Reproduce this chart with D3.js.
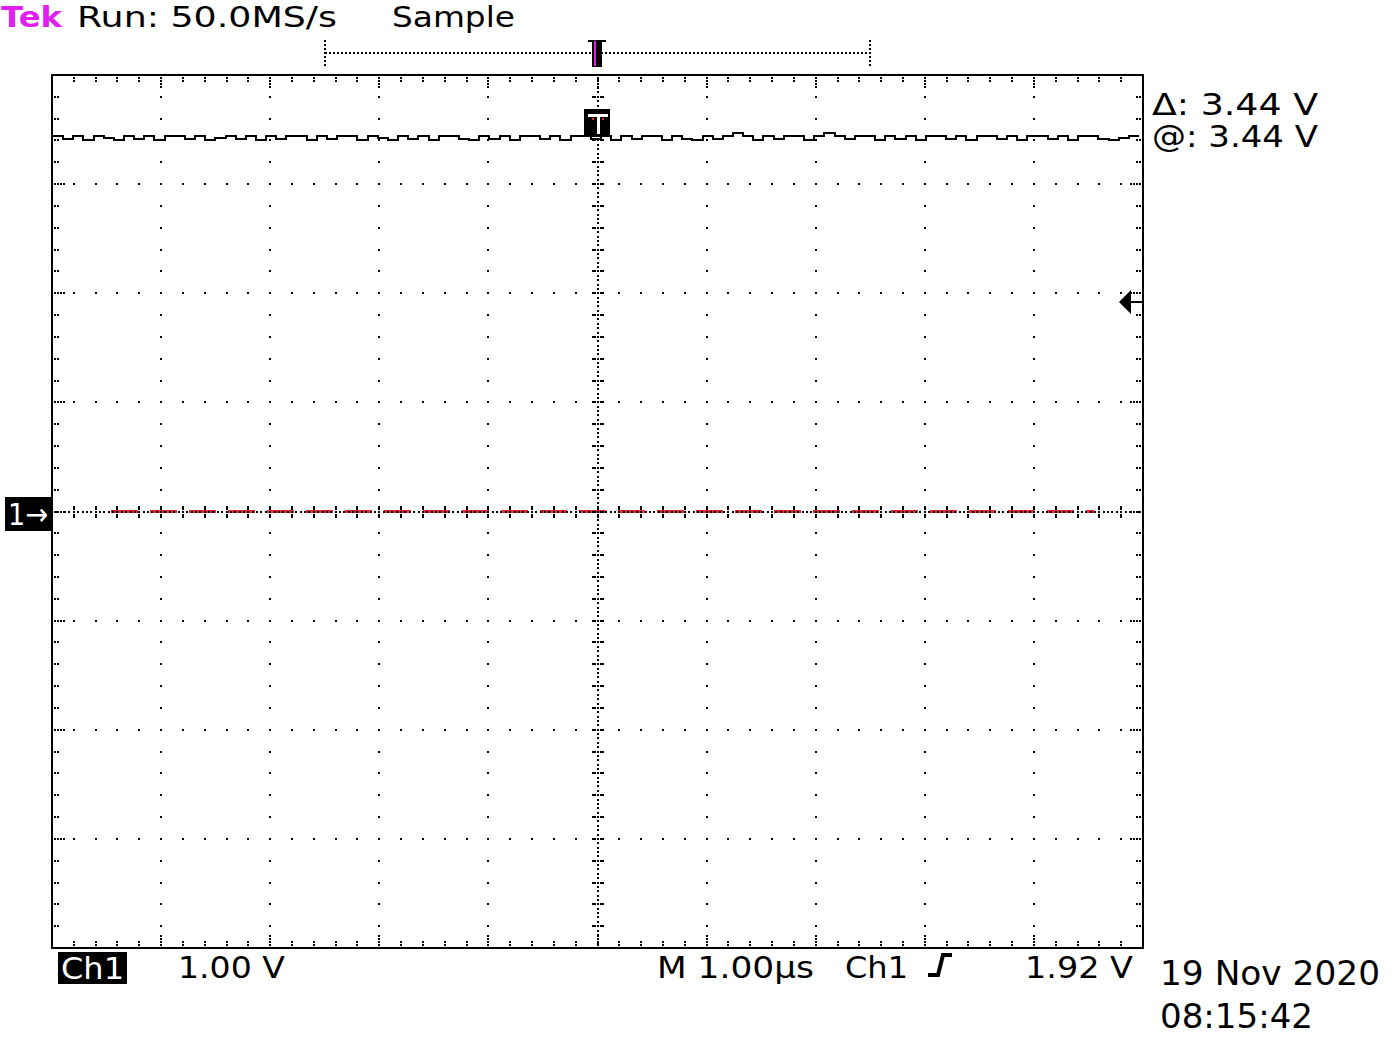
<!DOCTYPE html>
<html><head><meta charset="utf-8">
<script src="https://cdn.jsdelivr.net/npm/d3@7"></script>
<style>html,body{margin:0;padding:0;background:#fff;}svg{display:block;}</style>
</head><body>
<script>
// ---- data ----
const timeDomain = [-5, 5];          // µs, 10 divisions at 1.00 µs/div
const voltDomain = [-4, 4];          // V, 8 divisions at 1.00 V/div
const ch1Trace = [3.44,3.41,3.44,3.40,3.44,3.42,3.40,3.44,3.41,3.44,3.40,3.44,3.44,3.41,3.44,3.40,3.42,3.44,3.41,3.44,
  3.40,3.44,3.41,3.44,3.44,3.40,3.44,3.41,3.44,3.44,3.40,3.44,3.42,3.40,3.44,3.41,3.44,3.40,3.44,3.44,
  3.41,3.40,3.44,3.41,3.44,3.40,3.44,3.44,3.41,3.44,3.40,3.44,3.44,3.41,3.44,3.40,3.44,3.41,3.44,3.44,
  3.40,3.44,3.41,3.40,3.44,3.41,3.44,3.47,3.44,3.40,3.44,3.41,3.44,3.44,3.40,3.44,3.47,3.44,3.41,3.44,
  3.44,3.40,3.44,3.41,3.44,3.40,3.44,3.44,3.41,3.44,3.40,3.44,3.44,3.41,3.44,3.40,3.44,3.44,3.41,3.44,
  3.40,3.44,3.44,3.41,3.40,3.42,3.44,3.44];
const refTrace = [0, 0];             // red reference trace at ground
const refSpan = [-4.55, 4.55];
const groundLevel = 0;
const triggerLevel = 1.92;
const triggerTime = 0;
const recordSpan = [-2.5, 2.5];
const headerTexts = ["Tek", "Run: 50.0MS/s", "Sample"];
const cursorTexts = ["\u0394: 3.44 V", "@: 3.44 V"];
const footerTexts = ["Ch1", "1.00 V", "M 1.00\u00b5s", "Ch1", "1.92 V"];
const dateTexts = ["19 Nov 2020", "08:15:42"];

// ---- layout ----
const W = 1400, H = 1050;
const L = 52, R = 1143, T = 75, B = 948;
const x = d3.scaleLinear().domain(timeDomain).range([L, R]);
const y = d3.scaleLinear().domain(voltDomain).range([B, T]);
const FONT = "'DejaVu Sans', sans-serif";

const svg = d3.select("body").append("svg").attr("width", W).attr("height", H)
  .attr("shape-rendering", "crispEdges");

const majorT = d3.range(timeDomain[0], timeDomain[1] + 0.001, 1);
const majorV = d3.range(voltDomain[0], voltDomain[1] + 0.001, 1);
const minorT = d3.range(0, 51).map(i => timeDomain[0] + i * 0.2);
const minorV = d3.range(0, 41).map(i => voltDomain[0] + i * 0.2);
const fineT = d3.range(0, 251).map(i => timeDomain[0] + i * 0.04);
const fineV = d3.range(0, 201).map(i => voltDomain[0] + i * 0.04);

// red reference trace
svg.append("path")
  .datum(refTrace)
  .attr("d", d3.line().x((d, i) => x(refSpan[0] + i * (refSpan[1] - refSpan[0]))).y(d => y(d)))
  .attr("stroke", "#e0262a").attr("stroke-width", 3).attr("fill", "none")
  .attr("stroke-dasharray", "27,12").attr("stroke-dashoffset", -10);

const g = svg.append("g").attr("fill", "#000");
const dot = (cx, cy) => g.append("rect").attr("x", Math.round(cx) - 1).attr("y", Math.round(cy) - 1).attr("width", 2).attr("height", 2);

// major grid dots
majorT.filter(t => t > timeDomain[0] && t < timeDomain[1] && t !== 0).forEach(t => {
  minorV.filter(v => v > voltDomain[0] && v < voltDomain[1]).forEach(v => dot(x(t), y(v)));
});
majorV.filter(v => v > voltDomain[0] && v < voltDomain[1] && v !== 0).forEach(v => {
  minorT.filter(t => t > timeDomain[0] && t < timeDomain[1]).forEach(t => dot(x(t), y(v)));
});
// center crosshair
fineV.filter(v => v > voltDomain[0] && v < voltDomain[1]).forEach(v => dot(x(0), y(v)));
fineT.filter(t => t > timeDomain[0] && t < timeDomain[1]).forEach(t => dot(x(t), y(0)));
minorV.filter(v => v > voltDomain[0] && v < voltDomain[1]).forEach(v => {
  [-5, -3, 3, 5].forEach(o => dot(x(0) + o, y(v)));
});
minorT.filter(t => t > timeDomain[0] && t < timeDomain[1]).forEach(t => {
  [-5, -3, 3, 5].forEach(o => dot(x(t), y(0) + o));
});
// frame ticks
minorT.filter(t => t > timeDomain[0] && t < timeDomain[1]).forEach(t => {
  [3, 6].forEach(o => { dot(x(t), T + o); dot(x(t), B - o); });
  if (Math.abs(t - Math.round(t)) < 1e-6) [9, 12].forEach(o => { dot(x(t), T + o); dot(x(t), B - o); });
});
minorV.filter(v => v > voltDomain[0] && v < voltDomain[1]).forEach(v => {
  [3, 6].forEach(o => { dot(L + o, y(v)); dot(R - o, y(v)); });
  if (Math.abs(v - Math.round(v)) < 1e-6) [9, 12].forEach(o => { dot(L + o, y(v)); dot(R - o, y(v)); });
});

// frame
svg.append("rect").attr("x", L).attr("y", T).attr("width", R - L).attr("height", B - T)
  .attr("fill", "none").attr("stroke", "#000").attr("stroke-width", 2);

// CH1 trace
const xi = d3.scaleLinear().domain([0, ch1Trace.length - 1]).range([L + 1, R - 4]);
svg.append("path").datum(ch1Trace)
  .attr("d", d3.line().x((d, i) => xi(i)).y(d => y(d)).curve(d3.curveStepAfter))
  .attr("stroke", "#000").attr("stroke-width", 2).attr("fill", "none");

// trigger 'T' marker on trace
const tx = x(triggerTime);
const ty0 = y(ch1Trace[0]);
svg.append("rect").attr("x", tx - 13).attr("y", ty0 - 27).attr("width", 25).attr("height", 27)
  .attr("fill", "#000").attr("stroke", "#000").attr("stroke-width", 1);
svg.append("rect").attr("x", tx - 10).attr("y", ty0 - 22).attr("width", 20).attr("height", 3).attr("fill", "#fff");
svg.append("rect").attr("x", tx - 1).attr("y", ty0 - 22).attr("width", 3).attr("height", 20).attr("fill", "#fff");
[-5, 5].forEach(o => svg.append("rect").attr("x", tx + o - 1).attr("y", ty0 - 18).attr("width", 2).attr("height", 2).attr("fill", "#e0262a"));

// record bar at top
const barY = 53;
const rb = svg.append("g");
rb.append("line").attr("x1", x(recordSpan[0])).attr("x2", x(recordSpan[1]))
  .attr("y1", barY).attr("y2", barY).attr("stroke", "#000").attr("stroke-width", 2).attr("stroke-dasharray", "2,2");
recordSpan.forEach(t => rb.append("line").attr("x1", x(t)).attr("x2", x(t)).attr("y1", 40).attr("y2", 68)
  .attr("stroke", "#000").attr("stroke-width", 2).attr("stroke-dasharray", "2,2"));
rb.append("rect").attr("x", tx - 6).attr("y", 41).attr("width", 10).attr("height", 26).attr("fill", "#000");
rb.append("rect").attr("x", tx - 10).attr("y", 40).attr("width", 18).attr("height", 2).attr("fill", "#000");
rb.append("rect").attr("x", tx - 4).attr("y", 41).attr("width", 2).attr("height", 25).attr("fill", "#e020e0");

// trigger level arrow (right)
const ty = y(triggerLevel);
svg.append("path").attr("d", `M${R - 24},${ty} L${R - 12},${ty - 12} L${R - 12},${ty + 12} Z`).attr("fill", "#000")
  .attr("shape-rendering", "auto");
svg.append("line").attr("x1", R - 14).attr("x2", R).attr("y1", ty).attr("y2", ty).attr("stroke", "#000").attr("stroke-width", 2);

// ground marker (left)
const gy = y(groundLevel);
svg.append("rect").attr("x", 5).attr("y", gy - 15).attr("width", 46).attr("height", 34).attr("fill", "#000");
svg.append("text").attr("x", 8).attr("y", gy + 13).attr("fill", "#fff").attr("font-family", FONT)
  .attr("font-size", 31).attr("textLength", 40).attr("lengthAdjust", "spacingAndGlyphs").text("1\u2192");

// text helper
function txt(s, x0, y0, w, size, fill) {
  return svg.append("text").attr("x", x0).attr("y", y0).attr("fill", fill || "#000")
    .attr("font-family", FONT).attr("font-size", size)
    .attr("textLength", w).attr("lengthAdjust", "spacingAndGlyphs").text(s);
}
// header
txt(headerTexts[0], 1, 27, 61, 29, "#e020f0").attr("font-weight", "bold");
txt(headerTexts[1], 77, 27, 260, 29);
txt(headerTexts[2], 392, 27, 123, 29);
// cursor readouts
txt(cursorTexts[0], 1152, 115, 166, 30);
txt(cursorTexts[1], 1152, 147, 166, 30);
// footer
svg.append("rect").attr("x", 58).attr("y", 952).attr("width", 69).attr("height", 32).attr("fill", "#000");
txt(footerTexts[0], 61, 979, 63, 30, "#fff");
txt(footerTexts[1], 178, 978, 107, 30);
txt(footerTexts[2], 657, 978, 157, 30);
txt(footerTexts[3], 845, 978, 63, 30);
svg.append("path").attr("d", "M928,975 L938,975 L943,955 L952,955").attr("stroke", "#000")
  .attr("stroke-width", 4).attr("fill", "none").attr("shape-rendering", "auto");
txt(footerTexts[4], 1025, 978, 108, 30);
txt(dateTexts[0], 1160, 985, 220, 33);
txt(dateTexts[1], 1160, 1028, 153, 33);
</script>
</body></html>
